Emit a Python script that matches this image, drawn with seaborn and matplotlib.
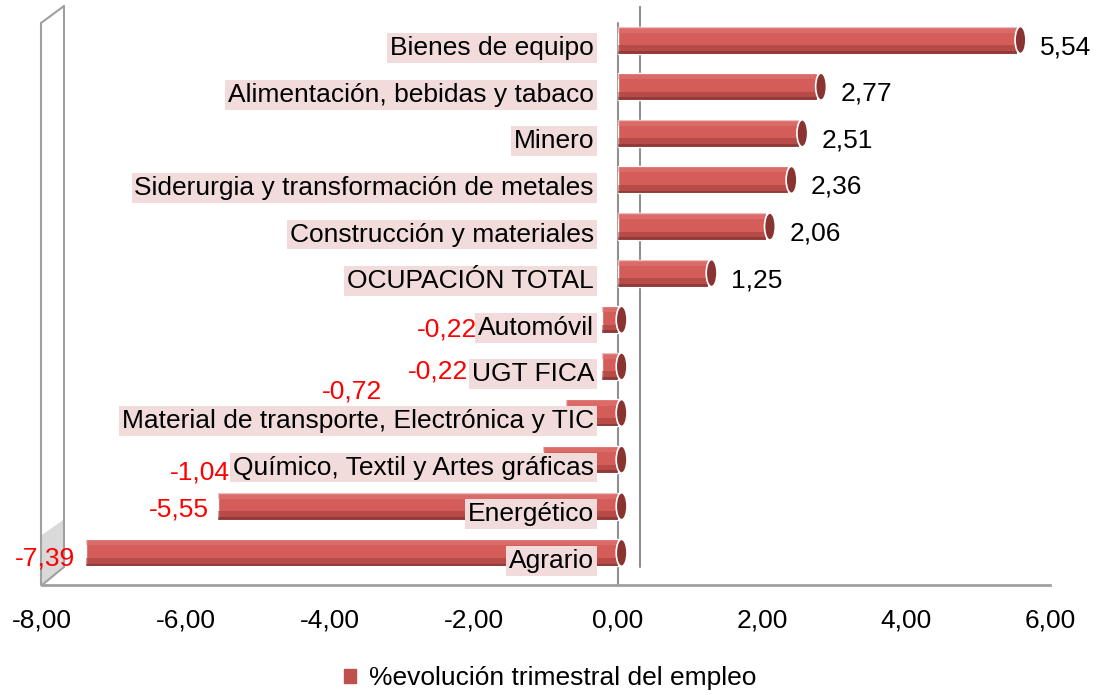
"""
Evolucion trimestral del empleo por sector (barras horizontales).
"""

import matplotlib
matplotlib.use("Agg")
import matplotlib.pyplot as plt
import matplotlib.ticker as mticker
from matplotlib.lines import Line2D
from matplotlib.patches import Ellipse, Patch, Polygon
import pandas as pd
import seaborn as sns


sectores = ['Bienes de equipo', 'Alimentación, bebidas y tabaco', 'Minero',
            'Siderurgia y transformación de metales',
            'Construcción y materiales', 'OCUPACIÓN TOTAL', 'Automóvil',
            'UGT FICA', 'Material de transporte, Electrónica y TIC',
            'Químico, Textil y Artes gráficas', 'Energético', 'Agrario']
evolucion = [5.54, 2.77, 2.51, 2.36, 2.06, 1.25, -0.22, -0.22, -0.72,
             -1.04, -5.55, -7.39]
ticks_x = [-8, -6, -4, -2, 0, 2, 4, 6]
serie = '%evolución trimestral del empleo'

# desplazamientos (pixels) de las etiquetas negativas, como en el original
desp_neg = [(0, 0)] * 6 + [(-125, -10), (-134, -5), (-184, 21), (-313, -13),
                           (-10, -3), (-11, -6)]

df = pd.DataFrame({'sector': sectores, 'valor': evolucion})

sns.set_style('white')
plt.rcParams['font.family'] = ['Liberation Sans', 'DejaVu Sans']
plt.rcParams['text.color'] = 'black'
plt.rcParams['xtick.color'] = 'black'
FS = 19

W, H = 1100, 695
fig = plt.figure(figsize=(11, 6.95), dpi=100)
ax = fig.add_axes([42 / W, 1 - 585 / H, 1008 / W, 579 / H])
ax.patch.set_alpha(0)

# linea frontal del cero (detras de las barras)
ax.axvline(0, ymin=0, ymax=0.971, color='#909090', lw=1.5, zorder=0)

sns.barplot(data=df, x='valor', y='sector', orient='h', color='#D45C59',
            width=0.58, saturation=1, ax=ax)
# sombreado para dar efecto de cilindro
ypos = range(len(evolucion))
ax.barh([y + 0.2 for y in ypos], evolucion, height=0.18, color='#9C3B39',
        alpha=0.5, linewidth=0)
ax.barh([y + 0.26 for y in ypos], evolucion, height=0.06, color='#5E2220',
        alpha=0.4, linewidth=0)
ax.barh([y - 0.22 for y in ypos], evolucion, height=0.12, color='#E27B78',
        alpha=0.5, linewidth=0)
for y, v in zip(ypos, evolucion):
    ax.add_patch(Ellipse((max(v, 0) + 0.05, y), 0.15, 0.58,
                         facecolor='#8A3432', edgecolor='white', lw=1.2,
                         zorder=4))

ax.set_xlim(-8, 6)
ax.set_ylim(len(sectores) - 1 + 0.69, -0.73)
ax.set_xticks(ticks_x)
ax.xaxis.set_major_formatter(
    mticker.FuncFormatter(lambda v, p: f'{v:.2f}'.replace('.', ',')))
ax.tick_params(axis='x', labelsize=FS, pad=17, length=0)
ax.set_yticks([])
ax.set_xlabel('')
ax.set_ylabel('')
for s in ['top', 'right', 'left']:
    ax.spines[s].set_visible(False)
ax.spines['bottom'].set_color('#A0A0A0')
ax.spines['bottom'].set_linewidth(2)

# pared del fondo en el cero
ax.axvline(0.31, ymin=18 / 579, ymax=1, color='#909090', lw=1.5, zorder=0)

# etiquetas de categoria junto al eje
for y, nombre in enumerate(sectores):
    ax.annotate(nombre, (0, y), xytext=(-24, -8), textcoords='offset pixels',
                ha='right', va='center', fontsize=FS, zorder=5,
                bbox=dict(facecolor='#F2DCDB', edgecolor='none', pad=2.0))

# etiquetas de valor
for y, v in enumerate(evolucion):
    txt = f'{v:.2f}'.replace('.', ',')
    if v >= 0:
        ax.annotate(txt, (v, y), xytext=(23, -7), textcoords='offset pixels',
                    ha='left', va='center', fontsize=FS)
    else:
        dx, dy = desp_neg[y]
        ax.annotate(txt, (v, y), xytext=(dx, dy), textcoords='offset pixels',
                    ha='right', va='center', fontsize=FS, color='red',
                    zorder=6)

# pared lateral izquierda (efecto 3D), por debajo de los ejes
gris = '#A0A0A0'
fig.add_artist(Polygon([(42 / W, 1 - 585 / H), (63 / W, 1 - 567 / H),
                        (63 / W, 1 - 520 / H), (42 / W, 1 - 535 / H)],
                       closed=True, facecolor='#D0D0D0', edgecolor='none',
                       alpha=0.8, zorder=-2))
for (x0, y0), (x1, y1) in [((41, 23), (41, 585)), ((64, 6), (64, 567)),
                           ((41, 23), (64, 6)), ((42, 585), (64, 567))]:
    fig.add_artist(Line2D([x0 / W, x1 / W], [1 - y0 / H, 1 - y1 / H],
                          color=gris, lw=1.5, zorder=-1))

fig.legend(handles=[Patch(color='#C0504D', label=serie)], loc='center',
           bbox_to_anchor=(0.5, 1 - 678 / H), frameon=False, fontsize=FS,
           handlelength=0.45, handleheight=0.45, handletextpad=0.5)

fig.savefig('out.png', dpi=100)
